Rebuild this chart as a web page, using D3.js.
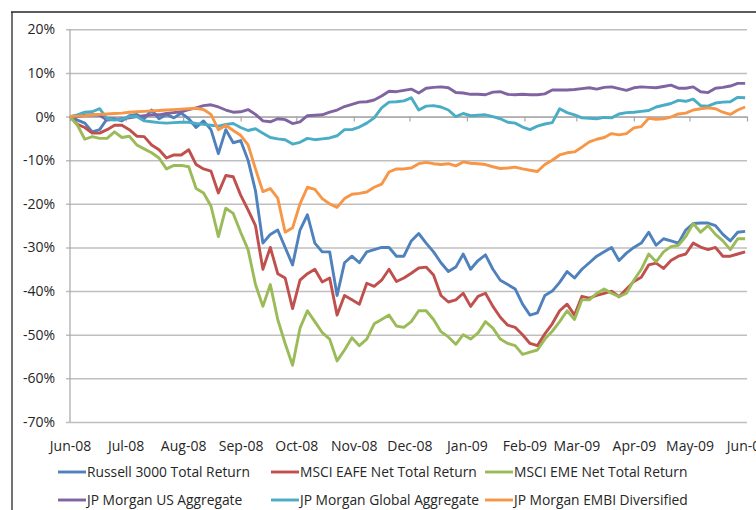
<!DOCTYPE html>
<html><head><meta charset="utf-8">
<script src="https://cdn.jsdelivr.net/npm/d3@7"></script>
<style>
html,body{margin:0;padding:0;background:#fff;}
svg{display:block;font-family:"Open Sans",sans-serif;}
</style></head>
<body><svg id="c" width="756" height="510"></svg>
<script>
// ---- data ----
const startDate = "2008-06-01";
const endDate = "2009-06-01";
const stepDays = 4; // observation every 4 calendar days
const seriesNames = ["Russell 3000 Total Return","MSCI EAFE Net Total Return","MSCI EME Net Total Return",
  "JP Morgan US Aggregate","JP Morgan Global Aggregate","JP Morgan EMBI Diversified"];
const seriesColors = ["#4F81BD","#C0504D","#9BBB59","#8064A2","#4BACC6","#F79646"];
const yTicks = [-70,-60,-50,-40,-30,-20,-10,0,10,20];

const russell = [0,-0.8,-1.5,-3.5,-3.0,-0.5,-0.5,-1.0,0.2,0.5,-0.5,1.5,-0.5,0.5,-0.3,0.8,-0.5,-2.5,-1.0,-3.0,
 -8.5,-3.0,-6.0,-5.5,-10,-17,-29,-27,-26,-30,-34,-26,-22.5,-29,-31,-31,-41,-33.5,-32,-33.5,
 -31,-30.5,-30,-30,-32,-32,-28.5,-26.8,-29,-31,-33.5,-35.5,-34.5,-31.5,-35,-33,-31.7,-35,-37.5,-38.5,
 -39.5,-43,-45.5,-45,-41,-40,-38,-35.5,-37,-35,-33.5,-32,-31,-30,-33,-31.3,-30,-29,-26.5,-29.5,
 -28,-28.5,-29,-26,-24.5,-24.4,-24.4,-25,-27,-28.5,-26.5,-26.3];
const eafe = [0,-1.8,-2.5,-3.8,-3.8,-3.0,-2.0,-2.0,-3.0,-4.5,-4.6,-6.5,-7.6,-9.5,-8.8,-8.8,-7.6,-11,-12,-12.5,
 -17.5,-13.5,-13.8,-18,-21.4,-25,-35,-30,-36,-37,-44,-37.5,-36,-35,-37.9,-37,-45.5,-41,-42,-43,
 -38.2,-38.9,-37.5,-35,-37.8,-37,-35.9,-34.7,-34.5,-36.3,-41,-42.5,-42,-40.5,-43.5,-41.2,-40.5,-43.5,-46,-47.8,
 -48.3,-50,-52,-52.5,-49.8,-47.5,-44.5,-43,-45.5,-41.2,-41.6,-41,-40.5,-40,-41.3,-39.5,-37.8,-36.8,-34,-33.6,
 -34.8,-33,-32,-31.5,-29,-29.9,-30.5,-30,-32,-32,-31.5,-31];
const eme = [0,-2.0,-5.2,-4.6,-5.0,-5.0,-3.5,-4.8,-4.5,-6.5,-7.4,-8.3,-9.5,-12.0,-11.2,-11.2,-11.5,-16.5,-17.5,-20.5,
 -27.5,-21,-22.2,-26.5,-30.5,-38.5,-43.5,-38.5,-46.5,-52,-57,-48.5,-44.5,-47,-49.5,-51,-56,-53.5,-50.7,-52.5,
 -51,-47.5,-46.5,-45.5,-48,-48.3,-47,-44.5,-44.5,-46.5,-49.3,-50.5,-52.2,-50,-51,-49.6,-47,-48.5,-51,-52,
 -52.5,-54.5,-54,-53.5,-51,-49.2,-47,-44.5,-46.5,-42,-42,-40.5,-39.5,-40.5,-41.3,-40.5,-37.5,-35,-31.5,-33.3,
 -31,-29.8,-29.5,-27.5,-24.5,-26.5,-25,-27,-28.5,-30.5,-28,-28];
const usAgg = [0,0,0.3,0.4,0.3,-0.8,-0.7,-0.5,-0.3,0,0.2,0.4,0.4,0.7,0.9,1.1,1.6,2.0,2.5,2.7,
 2.2,1.5,1.0,1.1,1.6,0.5,-1.0,-1.2,-0.5,-0.7,-1.6,-1.2,0.2,0.3,0.4,1.0,1.5,2.3,2.8,3.3,
 3.4,3.8,4.7,5.8,5.7,6.0,6.3,5.4,6.5,6.7,6.8,6.6,5.5,5.4,5.1,5.1,5.0,5.6,5.7,5.1,
 5.0,5.1,5.0,5.0,5.2,6.1,6.1,6.1,6.2,6.4,6.6,6.3,6.7,6.8,6.4,6.0,6.6,6.8,6.7,6.6,
 6.9,7.2,6.5,6.5,6.8,5.7,5.5,6.5,6.7,7.0,7.6,7.6];
const globalAgg = [0,0.4,1.0,1.1,1.8,-0.5,-0.8,-0.6,0,0,-1.0,-1.2,-1.4,-1.5,-1.4,-1.3,-1.3,-1.6,-1.8,-2.0,
 -2.2,-1.8,-1.6,-2.5,-3.2,-2.8,-3.8,-4.8,-5.1,-5.3,-6.3,-5.9,-5.0,-5.3,-5.1,-4.9,-4.4,-3.0,-3.0,-2.4,
 -1.5,-0.3,2.0,3.3,3.4,3.6,4.3,1.5,2.4,2.5,2.2,1.5,0.0,0.7,0.2,0.3,0.4,0,-0.5,-1.3,
 -1.5,-2.4,-3.0,-2.2,-1.7,-1.4,1.8,0.9,0.4,-0.3,-0.4,-0.5,-0.2,-0.3,0.6,0.9,1.0,1.2,1.4,2.2,
 2.6,3.0,3.7,3.5,4.0,2.5,2.4,3.1,3.3,3.4,4.4,4.3];
const embi = [0,0.1,0.2,0.4,0.5,0.6,0.7,0.8,1.0,1.1,1.2,1.3,1.4,1.5,1.6,1.7,1.8,1.9,1.6,0.5,
 -3.0,-2.0,-3.2,-4.3,-6.5,-12,-17.2,-16.5,-18.7,-26.5,-25.5,-20,-16.2,-16.7,-18.8,-20,-20.8,-18.8,-17.8,-17.6,
 -17.3,-16.2,-15.5,-12.7,-12.0,-12.0,-11.8,-10.8,-10.5,-10.8,-11.0,-10.8,-11.3,-10.4,-10.7,-10.8,-11.0,-11.5,-11.9,-11.8,
 -11.6,-12.0,-12.3,-12.6,-11.0,-10.0,-8.8,-8.3,-8.1,-7.0,-5.8,-5.2,-4.8,-3.9,-4.2,-3.9,-2.6,-2.3,-0.4,-0.6,
 -0.5,-0.1,0.6,0.8,1.5,1.8,2.0,1.8,1.0,0.5,1.5,2.2];
const seriesValues = [russell, eafe, eme, usAgg, globalAgg, embi];

// ---- chart ----
const svg = d3.select("#c");
const parse = d3.timeParse("%Y-%m-%d");
const t0 = parse(startDate), t1 = parse(endDate);
const dates = russell.map((_, i) => d3.timeDay.offset(t0, i * stepDays));

const L = 70, R = 747, T = 29.3, B = 422;
const x = d3.scaleTime().domain([t0, t1]).range([L, R]);
const y = d3.scaleLinear().domain([-70, 20]).range([B, T]);

// outer frame
svg.append("line").attr("x1", 11).attr("x2", 756).attr("y1", 12).attr("y2", 12).attr("stroke", "#262626").attr("stroke-width", 1.3);
svg.append("line").attr("x1", 12).attr("x2", 12).attr("y1", 12).attr("y2", 510).attr("stroke", "#262626").attr("stroke-width", 1.3);

// y axis with gridlines
const gy = svg.append("g").attr("transform", `translate(${L - 4},0)`)
  .call(d3.axisLeft(y).tickValues(yTicks).tickSize(-(R - L + 4)).tickPadding(11).tickFormat(d => d + "%"));
gy.select(".domain").remove();
gy.selectAll(".tick line").attr("stroke", "#bfbfbf").attr("stroke-width", 1.5);
gy.selectAll(".tick text").attr("fill", "#262626").style("font-size", "14px").style("font-family", "Open Sans, sans-serif");

// left axis line
svg.append("line").attr("x1", L).attr("x2", L).attr("y1", T).attr("y2", B).attr("stroke", "#a6a6a6").attr("stroke-width", 1.2);

// zero line with month ticks
const months = d3.timeMonth.range(t0, d3.timeDay.offset(t1, 1));
const gx = svg.append("g").attr("transform", `translate(0,${y(0)})`)
  .call(d3.axisBottom(x).tickValues(months).tickSize(5).tickSizeOuter(0).tickFormat(""));
gx.select(".domain").attr("stroke", "#a6a6a6").attr("stroke-width", 1.2);
gx.selectAll(".tick line").attr("stroke", "#a6a6a6").attr("stroke-width", 1.2);

// month labels at bottom
const gl = svg.append("g").attr("transform", `translate(0,${B})`)
  .call(d3.axisBottom(x).tickValues(months).tickSize(0).tickPadding(19).tickFormat(d3.timeFormat("%b-%y")));
gl.select(".domain").remove();
gl.selectAll(".tick text").attr("fill", "#262626").style("font-size", "14px").style("font-family", "Open Sans, sans-serif");

// lines
const line = d3.line().x((d, i) => x(dates[i])).y(d => y(d));
seriesValues.forEach((vals, k) => {
  svg.append("path").datum(vals).attr("d", line).attr("fill", "none")
    .attr("stroke", seriesColors[k]).attr("stroke-width", 2.9).attr("stroke-linejoin", "round");
});

// legend
const legX = [58, 271, 485], legY = [472, 500];
seriesNames.forEach((name, k) => {
  const lx = legX[k % 3], ly = legY[Math.floor(k / 3)];
  svg.append("line").attr("x1", lx).attr("x2", lx + 28).attr("y1", ly).attr("y2", ly)
    .attr("stroke", seriesColors[k]).attr("stroke-width", 2.9);
  svg.append("text").attr("x", lx + 29).attr("y", ly).attr("dy", "0.35em")
    .attr("fill", "#262626").style("font-size", "13.8px").style("font-family", "Open Sans, sans-serif").text(name);
});
</script></body></html>
